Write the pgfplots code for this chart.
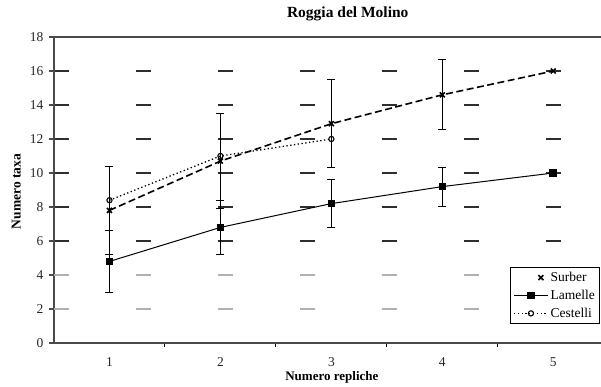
\documentclass[border=0pt]{standalone}
\usepackage{pgfplots}
\pgfplotsset{compat=1.18}
\usepackage{fontspec}
\setmainfont{Liberation Serif}
\definecolor{axgray}{HTML}{4A4A4A}
\definecolor{griddark}{HTML}{2E2E2E}
\definecolor{gridlight}{HTML}{B0B0B0}
\pgfplotsset{
  linelegend/.style={legend image code/.code={\draw[##1] (0pt,0pt) -- (34pt,0pt); \draw[##1, only marks] plot coordinates {(17pt,0pt)};}},
  marklegend/.style={legend image code/.code={\draw[##1, only marks] plot coordinates {(27pt,0pt)};}},
}
\begin{document}
\begin{tikzpicture}
\begin{axis}[
  name=ax,
  scale only axis,
  width=547pt, height=306pt,
  xmin=0.5, xmax=5.43,
  ymin=0, ymax=18,
  axis x line*=bottom,
  axis y line*=left,
  axis line style={-, line width=1.6pt, color=axgray},
  xtick={1,2,3,4,5},
  minor xtick={1.5,2.5,3.5,4.5},
  major x tick style={draw=none},
  minor x tick style={line width=1pt, color=black},
  minor tick length=4pt,
  ytick={0,6,8,10,12,14,16,18},
  extra y ticks={2,4},
  extra y tick labels={2,4},
  extra y tick style={grid style={line width=1.8pt, color=gridlight, dash pattern=on 15pt off 67pt}},
  ymajorgrids,
  grid style={line width=1.8pt, color=griddark, dash pattern=on 15pt off 67pt},
  tick align=outside,
  major tick length=5pt,
  y tick style={line width=1.2pt, color=axgray},
  tick label style={font=\fontsize{13.5}{15}\selectfont, color=black!85},
  /pgf/number format/assume math mode=true,
  yticklabel style={xshift=-2pt},
  xticklabel style={yshift=-6pt},
  title={\textbf{Roggia del Molino}},
  title style={at={(axis description cs:0.537,1.055)}, anchor=center, font=\fontsize{15.5}{17}\selectfont},
  xlabel={\textbf{Numero repliche}},
  xlabel style={at={(axis description cs:0.508,-0.112)}, anchor=center, font=\fontsize{13}{15}\selectfont},
  ylabel={\textbf{Numero taxa}},
  ylabel style={at={(axis description cs:-0.069,0.495)}, anchor=center, font=\fontsize{13.5}{15}\selectfont},
  legend style={at={(axis description cs:0.998,0.248)}, anchor=north east, draw=black, line width=1.2pt,
     font=\fontsize{13.5}{15}\selectfont, row sep=3pt, inner sep=2.5pt, cells={anchor=west}},
  linelegend,
  clip=false,
]
% Surber
\addplot[black, line width=1.6pt, dash pattern=on 7pt off 3.5pt, mark=x, mark size=3.5pt,
  mark options={solid, line width=1.6pt}, marklegend]
  coordinates {(1,7.8) (2,10.7) (3,12.9) (4,14.6) (5,16.0)};
\addlegendentry{Surber}
% Lamelle
\addplot[black, line width=1pt, mark=square*, mark size=3.3pt, mark options={solid}]
  coordinates {(1,4.8) (2,6.8) (3,8.2) (4,9.2) (5,10.0)};
\addlegendentry{Lamelle}
% Cestelli
\addplot[black, line width=1.3pt, dash pattern=on 1.3pt off 2.5pt, mark=o, mark size=2.6pt,
  mark options={solid, fill=white, line width=1.1pt}]
  coordinates {(1,8.4) (2,11.0) (3,12.0)};
\addlegendentry{Cestelli}
% error bars Surber
\addplot[forget plot, draw=none, no marks,
  error bars/.cd, y dir=both, y explicit,
  error bar style={solid, line width=1pt, black},
  error mark options={rotate=90, mark size=4pt, line width=1pt, solid, black}]
  coordinates {(1,7.8) +- (0,2.6) (2,10.7) +- (0,2.8) (3,12.9) +- (0,2.6) (4,14.6) +- (0,2.05)};
% error bars Lamelle
\addplot[forget plot, draw=none, no marks,
  error bars/.cd, y dir=both, y explicit,
  error bar style={solid, line width=1pt, black},
  error mark options={rotate=90, mark size=4pt, line width=1pt, solid, black}]
  coordinates {(1,4.8) +- (0,1.8) (2,6.8) +- (0,1.6) (3,8.2) +- (0,1.4) (4,9.2) +- (0,1.15)};
\draw[line width=1.6pt, axgray] (rel axis cs:0,1) -- (rel axis cs:1,1);
\end{axis}
\pgfresetboundingbox
\path ([xshift=-54pt,yshift=-43pt]ax.south west) rectangle ([yshift=37pt]ax.north east);
\end{tikzpicture}
\end{document}
